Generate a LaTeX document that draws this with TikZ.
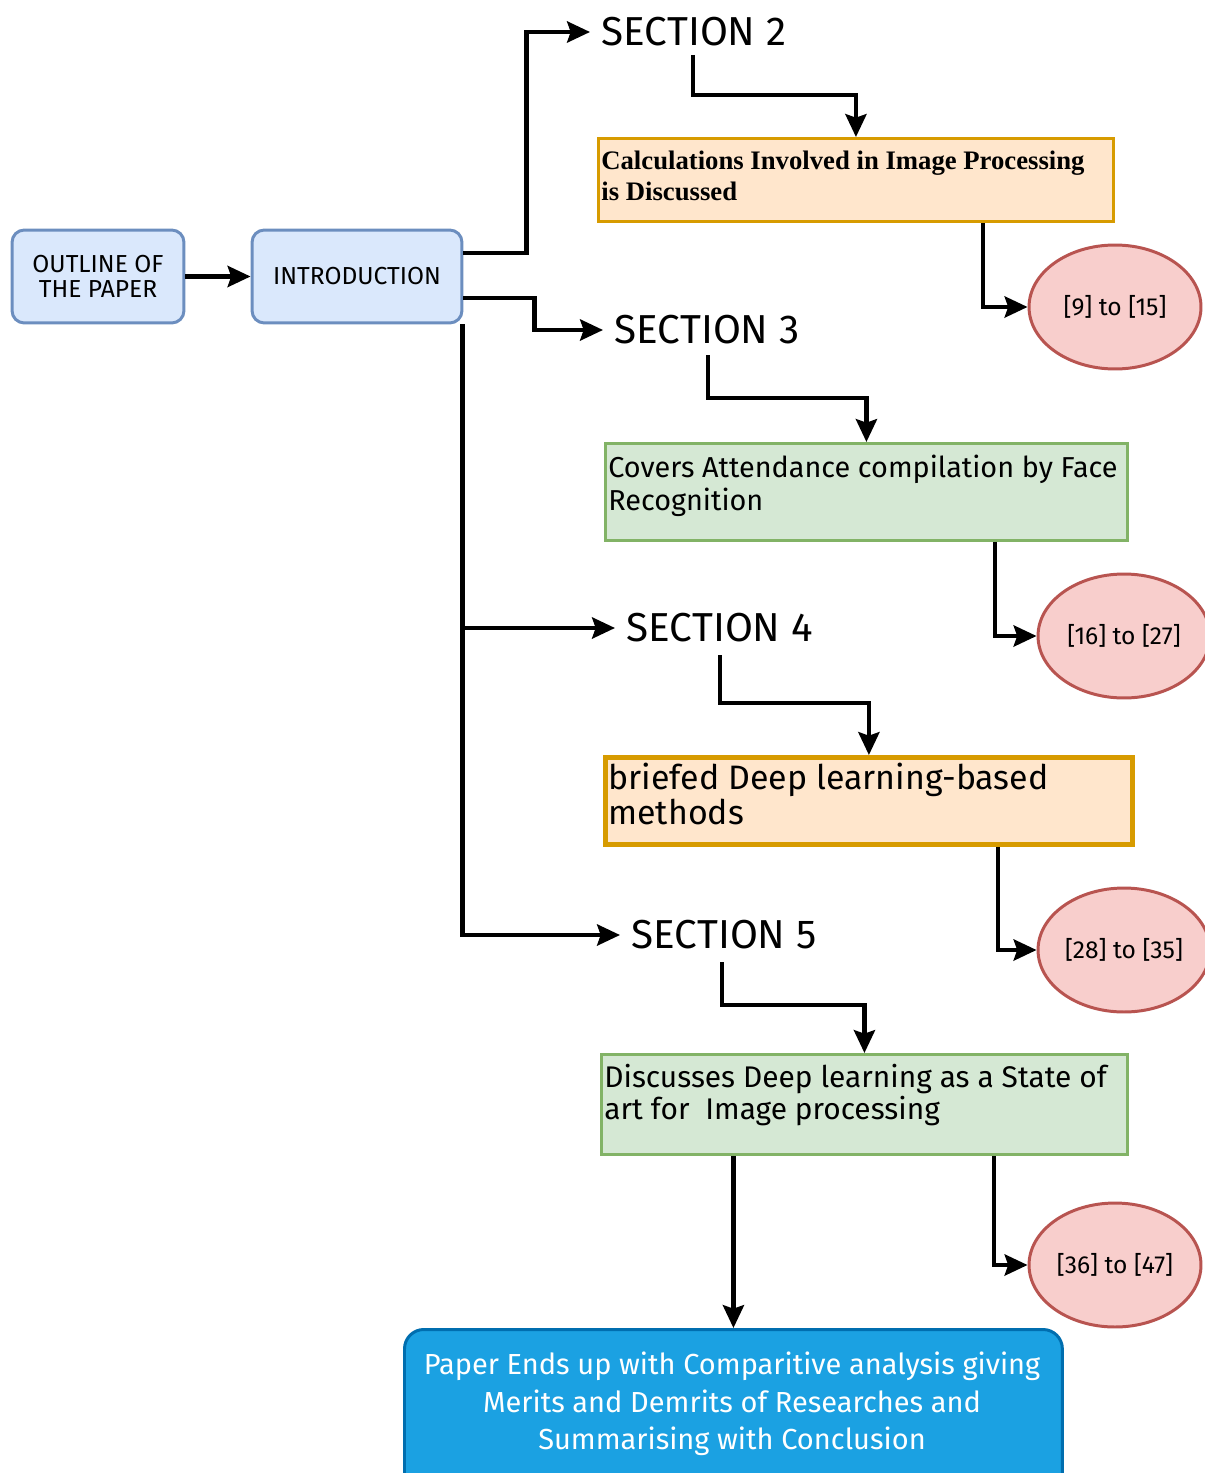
\documentclass[tikz,border=0pt]{standalone}
\usepackage{fontspec}
\setmainfont{Fira Sans}
\newfontfamily\timesf{Liberation Serif}
\usetikzlibrary{arrows.meta,calc,shapes.geometric}
\definecolor{bluefill}{HTML}{DAE8FC}
\definecolor{bluedraw}{HTML}{6C8EBF}
\definecolor{orfill}{HTML}{FFE6CC}
\definecolor{ordraw}{HTML}{D79B00}
\definecolor{grfill}{HTML}{D5E8D4}
\definecolor{grdraw}{HTML}{82B366}
\definecolor{redfill}{HTML}{F8CECC}
\definecolor{reddraw}{HTML}{B85450}
\definecolor{endfill}{HTML}{1BA1E2}
\definecolor{enddraw}{HTML}{006EAF}
\begin{document}
\begin{tikzpicture}[x=0.02cm,y=-0.02cm,
  conn/.style={line width=2.4pt},
  arr/.style={line width=2.4pt,-{Stealth[length=13pt,width=12pt,inset=2pt]}},
  bluebox/.style={draw=bluedraw,fill=bluefill,line width=1.7pt,rounded corners=7pt,
     align=center,font=\fontsize{14}{14.5}\selectfont,inner sep=0pt},
  seclabel/.style={anchor=west,inner ysep=0pt,inner xsep=6.5pt,font=\fontsize{23}{26}\selectfont},
  orbox/.style={draw=ordraw,fill=orfill,line width=1.7pt,anchor=north west,inner sep=0pt},
  grbox/.style={draw=grdraw,fill=grfill,line width=1.7pt,anchor=north west,inner sep=0pt},
  boxtext/.style={anchor=north west,inner sep=0pt,align=left},
  refell/.style={ellipse,draw=reddraw,fill=redfill,line width=1.7pt,inner sep=0pt,
     minimum width=3.44cm,minimum height=2.48cm,font=\fontsize{14}{15}\selectfont},
  endbox/.style={draw=enddraw,fill=endfill,line width=1.7pt,rounded corners=11pt,anchor=north west,inner sep=0pt}
]
\useasboundingbox (0,0) rectangle (1204,1473);
\fill[white] (0,0) rectangle (1204,1473);

% left boxes
\node[bluebox,minimum width=3.44cm,minimum height=1.86cm] (outline) at (98,276.5) {OUTLINE OF\\THE PAPER};
\node[bluebox,minimum width=4.2cm,minimum height=1.86cm] (intro) at (357,276.5) {INTRODUCTION};

% section labels
\node[seclabel] (s2) at (590,32) {SECTION 2};
\node[seclabel] (s3) at (603,330) {SECTION 3};
\node[seclabel] (s4) at (615,628) {SECTION 4};
\node[seclabel] (s5) at (620,935) {SECTION 5};

% content boxes
\node[orbox,minimum width=10.3cm,minimum height=1.66cm] (b1) at (597,137) {};
\node[boxtext,font=\timesf\bfseries\fontsize{15.2}{17.6}\selectfont] (b1t) at (601,151)
  {Calculations Involved in Image Processing\\is Discussed};
\node[grbox,minimum width=10.44cm,minimum height=1.94cm] (b2) at (604,442) {};
\node[boxtext,font=\fontsize{16.4}{18.8}\selectfont] (b2t) at (608,455)
  {Covers Attendance compilation by Face\\Recognition};
\node[orbox,line width=2.8pt,minimum width=10.54cm,minimum height=1.74cm] (b3) at (603,755) {};
\node[boxtext,font=\fontsize{19.3}{17}\selectfont] (b3t) at (608,763)
  {briefed Deep learning-based\\methods};
\node[grbox,minimum width=10.52cm,minimum height=2.0cm] (b4) at (600,1053) {};
\node[boxtext,font=\fontsize{17}{16.5}\selectfont] (b4t) at (604,1064)
  {Discusses Deep learning as a State of\\art for\ \ Image processing};

% reference ellipses
\node[refell] (e1) at (1115,307) {[9] to [15]};
\node[refell] (e2) at (1124,636) {[16] to [27]};
\node[refell] (e3) at (1124,950) {[28] to [35]};
\node[refell] (e4) at (1115,1265) {[36] to [47]};

% final box
\node[endbox,minimum width=13.16cm,minimum height=3.3cm] (fin) at (403,1328) {};
\node[anchor=center,inner sep=0pt,align=center,text=white,font=\fontsize{16.5}{21.3}\selectfont] (fint) at (732,1404)
  {Paper Ends up with Comparitive analysis giving\\Merits and Demrits of Researches and\\Summarising with Conclusion};

% connectors
\draw[arr] (outline) -- (intro);
\draw[arr] ($(intro.east)+(0,-23.5)$) -- ++(63,0) |- (s2.west);
\draw[arr] ($(intro.east)+(0,21.5)$) -- ++(71,0) |- (s3.west);
\draw[arr] ($(intro.south east)+(-1,0)$) |- (s4.west);
\draw[arr] ($(intro.south east)+(-1,0)$) |- (s5.west);

\draw[arr] ($(s2.west)+(103,23)$) -- ++(0,40) -| (b1.north);
\draw[arr] ($(s3.west)+(105,25)$) -- ++(0,43) -| (b2.north);
\draw[arr] ($(s4.west)+(105,27)$) -- ++(0,48) -| (b3.north);
\draw[arr] ($(s5.west)+(102,27)$) -- ++(0,43) -| (b4.north);

\draw[arr] ($(b1.south west)+(386,0)$) |- (e1.west);
\draw[arr] ($(b2.south west)+(391,0)$) |- (e2.west);
\draw[arr] ($(b3.south west)+(395,0)$) |- (e3.west);
\draw[arr] ($(b4.south west)+(394,0)$) |- (e4.west);
\draw[arr] (b4.south -| fin.north) -- (fin.north);
\end{tikzpicture}
\end{document}
